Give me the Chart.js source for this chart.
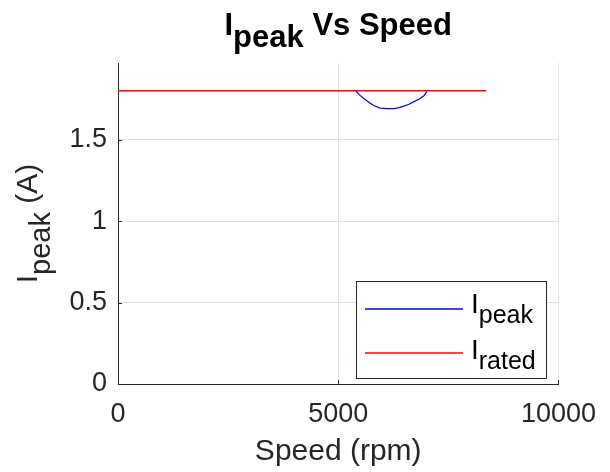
<!DOCTYPE html>
<html>
<head>
<meta charset="utf-8">
<script src="https://cdn.jsdelivr.net/npm/chart.js@4/dist/chart.umd.min.js"></script>
<style>
  html, body { margin: 0; padding: 0; background: #ffffff; }
  #wrap { width: 610px; height: 472px; }
</style>
</head>
<body>
<div id="wrap"><canvas id="c" width="610" height="472"></canvas></div>
<script>
// ---- data ----
const speedPeak = [5400, 5475, 5588, 5701, 5814, 5950, 6100, 6267, 6380, 6493, 6606, 6719, 6832, 6946, 7014];
const iPeak     = [1.798, 1.776, 1.751, 1.727, 1.708, 1.693, 1.690, 1.690, 1.696, 1.705, 1.717, 1.733, 1.748, 1.769, 1.794];
const speedRated = [0, 8360];
const iRated     = [1.8, 1.8];
const xTicks = [0, 5000, 10000];
const yTicks = [0, 0.5, 1, 1.5];
const xRange = [0, 10000];
const yRange = [0, 1.97];

const FONT = "'Liberation Sans', Arial, Helvetica, sans-serif";
const AXC = '#262626';
const GRIDC = '#e2e2e2';

function toXY(xs, ys) { return xs.map((x, i) => ({ x: x, y: ys[i] })); }

function drawSub(ctx, x, y, main, sub, rest, mainFont, subFont, subDy) {
  ctx.font = mainFont; ctx.fillText(main, x, y);
  let w = ctx.measureText(main).width;
  ctx.font = subFont; ctx.fillText(sub, x + w, y + subDy);
  w += ctx.measureText(sub).width;
  if (rest) { ctx.font = mainFont; ctx.fillText(rest, x + w, y); w += ctx.measureText(rest).width; }
  return w;
}
function measureSub(ctx, main, sub, rest, mainFont, subFont) {
  ctx.font = mainFont; let w = ctx.measureText(main).width;
  ctx.font = subFont; w += ctx.measureText(sub).width;
  if (rest) { ctx.font = mainFont; w += ctx.measureText(rest).width; }
  return w;
}

const decor = {
  id: 'decor',
  afterDraw(chart) {
    const ctx = chart.ctx, ca = chart.chartArea;
    const xs = chart.scales.x, ys = chart.scales.y;
    ctx.save();
    // inward tick marks
    ctx.strokeStyle = AXC; ctx.lineWidth = 1;
    ctx.beginPath();
    xTicks.forEach(v => { const px = Math.round(xs.getPixelForValue(v)) + 0.5; ctx.moveTo(px, ca.bottom); ctx.lineTo(px, ca.bottom - 4); });
    yTicks.forEach(v => { const py = Math.round(ys.getPixelForValue(v)) + 0.5; ctx.moveTo(ca.left, py); ctx.lineTo(ca.left + 4, py); });
    ctx.stroke();

    const cx = (ca.left + ca.right) / 2;
    ctx.textBaseline = 'alphabetic';
    ctx.textAlign = 'left';

    // title
    ctx.fillStyle = '#000000';
    const tMain = 'bold 31px ' + FONT, tSub = 'bold 31px ' + FONT;
    const tw = measureSub(ctx, 'I', 'peak', ' Vs Speed', tMain, tSub);
    drawSub(ctx, cx - tw / 2, 35, 'I', 'peak', ' Vs Speed', tMain, tSub, 12);

    // x label
    ctx.fillStyle = AXC;
    ctx.font = '30px ' + FONT;
    ctx.textAlign = 'center';
    ctx.fillText('Speed (rpm)', cx, 460);
    ctx.textAlign = 'left';

    // y label (rotated)
    const cy = (ca.top + ca.bottom) / 2;
    const yMain = '30px ' + FONT, ySub = '29px ' + FONT;
    const yw = measureSub(ctx, 'I', 'peak', ' (A)', yMain, ySub);
    ctx.save();
    ctx.translate(37, cy);
    ctx.rotate(-Math.PI / 2);
    drawSub(ctx, -yw / 2, 0, 'I', 'peak', ' (A)', yMain, ySub, 13);
    ctx.restore();

    // legend
    const lx = 356.5, ly = 281.5, lw = 190, lh = 97;
    ctx.fillStyle = '#ffffff';
    ctx.fillRect(lx, ly, lw, lh);
    ctx.strokeStyle = AXC; ctx.lineWidth = 1;
    ctx.strokeRect(lx, ly, lw, lh);
    const entries = [
      { sub: 'peak', color: '#0000ff', lineY: 309, base: 313 },
      { sub: 'rated', color: '#ff0000', lineY: 353, base: 359 }
    ];
    entries.forEach(e => {
      ctx.strokeStyle = e.color; ctx.lineWidth = 1.3;
      ctx.beginPath(); ctx.moveTo(365, e.lineY); ctx.lineTo(463, e.lineY); ctx.stroke();
      ctx.fillStyle = '#000000';
      drawSub(ctx, 471, e.base, 'I', e.sub, null, '28px ' + FONT, '25px ' + FONT, 10);
    });
    ctx.restore();
  }
};

new Chart(document.getElementById('c'), {
  type: 'line',
  data: {
    datasets: [
      { label: 'Ipeak', data: toXY(speedPeak, iPeak), borderColor: '#0000ff', borderWidth: 1.2, pointRadius: 0, fill: false, tension: 0 },
      { label: 'Irated', data: toXY(speedRated, iRated), borderColor: '#ff0000', borderWidth: 1.6, pointRadius: 0, fill: false, tension: 0 }
    ]
  },
  options: {
    responsive: false,
    animation: false,
    devicePixelRatio: 1,
    layout: { padding: { top: 63, right: 50, left: 0, bottom: 0 } },
    plugins: { legend: { display: false }, title: { display: false }, tooltip: { enabled: false } },
    scales: {
      x: {
        type: 'linear', min: xRange[0], max: xRange[1],
        afterFit(s) { s.height = 88; },
        afterBuildTicks(s) { s.ticks = xTicks.map(v => ({ value: v })); },
        ticks: { font: { size: 27, family: FONT }, color: AXC, padding: 14, maxRotation: 0, callback: v => String(v) },
        grid: { color: ctx => (ctx.tick && ctx.tick.value === 0) ? 'rgba(0,0,0,0)' : GRIDC, drawTicks: false, lineWidth: 1 },
        border: { display: true, color: AXC, width: 1 }
      },
      y: {
        type: 'linear', min: yRange[0], max: yRange[1],
        afterFit(s) { s.width = 118; },
        afterBuildTicks(s) { s.ticks = yTicks.map(v => ({ value: v })); },
        ticks: { font: { size: 27, family: FONT }, color: AXC, padding: 11, callback: v => String(v) },
        grid: { color: ctx => (ctx.tick && ctx.tick.value === 0) ? 'rgba(0,0,0,0)' : GRIDC, drawTicks: false, lineWidth: 1 },
        border: { display: true, color: AXC, width: 1 }
      }
    }
  },
  plugins: [decor]
});
</script>
</body>
</html>
